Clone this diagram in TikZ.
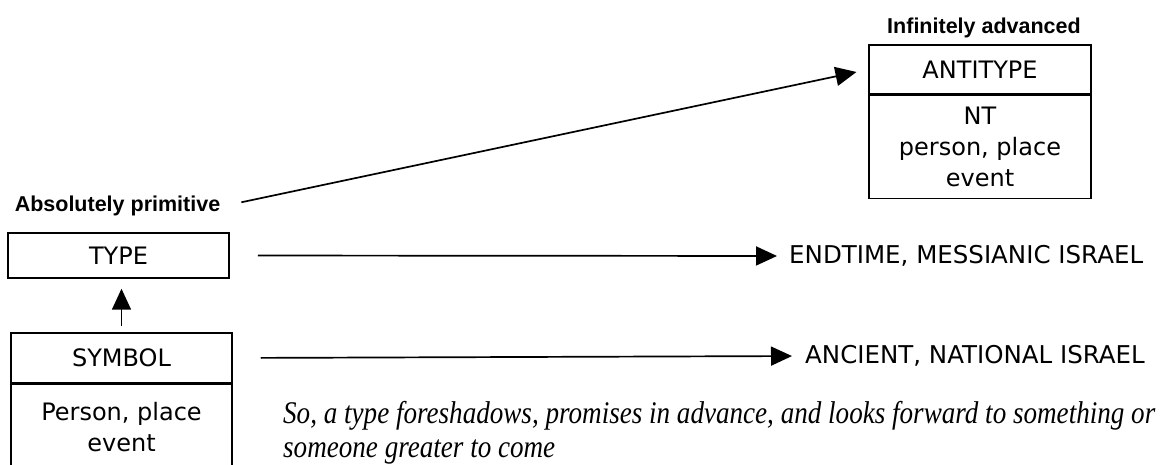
\documentclass[tikz,border=0pt]{standalone}
\usepackage{fontspec}
\setmainfont{DejaVu Sans}
\newfontfamily\headfont{Liberation Sans}
\newfontfamily\notefont[FakeStretch=0.86]{Liberation Serif}
\usetikzlibrary{arrows.meta,positioning}

\tikzset{
  box/.style={draw, line width=1.5pt, minimum width=221pt, inner sep=0pt, align=center, font=\fontsize{24}{31}\selectfont},
  heading/.style={font=\headfont\bfseries\fontsize{21.5}{26}\selectfont},
  israel/.style={anchor=west, inner sep=0pt, font=\fontsize{24.5}{31}\selectfont},
  link/.style={line width=1.7pt, -{Triangle[length=21pt,width=19pt]}},
}

\begin{document}
\begin{tikzpicture}[x=1pt,y=-1pt]
\useasboundingbox (0,0) rectangle (1160,465);
\clip (0,0) rectangle (1160,465);
% antitype, top right
\node[heading] (advlabel) at (984,28) {Infinitely advanced};
\node[box, minimum width=222pt, minimum height=49pt] (antitype) at (980,69.5) {ANTITYPE};
\node[box, minimum width=222pt, minimum height=103pt, below=0pt of antitype] (antidesc) {NT\\person, place\\event};
% type and symbol, left
\node[heading] (primlabel) at (117.5,206) {Absolutely primitive};
\node[box, minimum height=45pt] (type) at (118.5,255.5) {TYPE};
\node[box, minimum height=50pt] (symbol) at (121.5,358) {SYMBOL};
\node[box, minimum height=86pt, below=0pt of symbol] (symboldesc) {Person, place\\event};
% targets
\node[israel] (endtime) at (789,256) {ENDTIME, MESSIANIC ISRAEL};
\node[israel] (ancient) at (805,356) {ANCIENT, NATIONAL ISRAEL};
\node[anchor=north west, inner sep=0pt, align=left, font=\notefont\itshape\fontsize{31.5}{34}\selectfont] (note) at (283,401)
  {So, a type foreshadows, promises in advance, and looks forward to something or\\someone greater to come};
% arrows
\draw[link, shorten <=18pt, shorten >=12pt] (primlabel.east) -- (antitype.west);
\draw[link, shorten <=28pt, shorten >=12pt] (type.east) -- (endtime.west);
\draw[link, shorten <=28pt, shorten >=13pt] (symbol.east) -- (ancient.west);
\draw[link, shorten <=6pt, shorten >=10pt] (symbol.north) -- (symbol.north |- type.south);
\end{tikzpicture}
\end{document}
